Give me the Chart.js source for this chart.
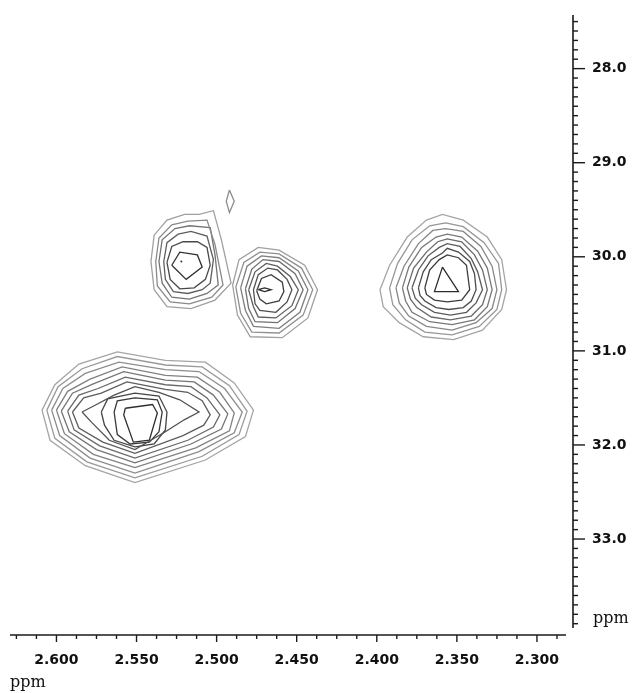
<!DOCTYPE html>
<html><head><meta charset="utf-8">
<script src="https://cdn.jsdelivr.net/npm/chart.js@4.4.0/dist/chart.umd.min.js"></script>
<style>html,body{margin:0;padding:0;background:#fff}</style>
</head><body>
<canvas id="c" width="633" height="693"></canvas>
<script>
// ---- axis data (ppm) ----
const xTickValues = [2.600, 2.550, 2.500, 2.450, 2.400, 2.350, 2.300];
const yTickValues = [28.0, 29.0, 30.0, 31.0, 32.0, 33.0];
const xLimits = [2.2775, 2.629];
const yLimits = [27.43, 34.02];
const xMinorStep = 0.0125;
const yMinorStep = 0.1;
const axisUnit = 'ppm';

// ---- contour data, [x ppm (1H), y ppm (13C)], outermost first ----
const peakA = [
  [[2.541,30.05],[2.539,29.77],[2.531,29.61],[2.520,29.55],[2.511,29.55],[2.502,29.51],[2.497,29.82],[2.491,30.28],[2.501,30.46],[2.516,30.55],[2.531,30.53],[2.539,30.35]],
  [[2.538,30.05],[2.536,29.80],[2.528,29.66],[2.518,29.62],[2.506,29.61],[2.501,29.87],[2.496,30.30],[2.503,30.43],[2.517,30.50],[2.529,30.48],[2.537,30.31]],
  [[2.536,30.05],[2.534,29.82],[2.526,29.70],[2.517,29.67],[2.504,29.69],[2.501,29.98],[2.499,30.30],[2.506,30.39],[2.517,30.45],[2.528,30.43],[2.534,30.28]],
  [[2.533,30.05],[2.531,29.85],[2.524,29.76],[2.516,29.73],[2.506,29.78],[2.502,30.03],[2.504,30.28],[2.509,30.35],[2.518,30.39],[2.527,30.37],[2.532,30.24]],
  [[2.531,30.06],[2.528,29.89],[2.521,29.84],[2.512,29.84],[2.506,29.90],[2.504,30.09],[2.507,30.24],[2.514,30.33],[2.523,30.34],[2.529,30.24]],
  [[2.528,30.09],[2.523,29.95],[2.512,29.98],[2.509,30.11],[2.519,30.24]]
];
const peakAMax = [[2.522, 30.05]];
const smallSpot = [
  [[2.492,29.29],[2.489,29.41],[2.492,29.53],[2.494,29.41]]
];
const peakB = [
  [[2.490,30.30],[2.486,30.03],[2.474,29.90],[2.461,29.93],[2.445,30.09],[2.437,30.35],[2.443,30.65],[2.459,30.86],[2.479,30.85],[2.487,30.62]],
  [[2.488,30.32],[2.483,30.06],[2.473,29.95],[2.461,29.97],[2.447,30.12],[2.440,30.35],[2.446,30.62],[2.461,30.81],[2.478,30.80],[2.485,30.60]],
  [[2.485,30.33],[2.481,30.10],[2.472,29.99],[2.461,30.01],[2.449,30.15],[2.443,30.35],[2.448,30.59],[2.461,30.76],[2.477,30.74],[2.482,30.57]],
  [[2.482,30.34],[2.478,30.13],[2.471,30.03],[2.461,30.05],[2.451,30.18],[2.446,30.35],[2.451,30.55],[2.462,30.70],[2.476,30.69],[2.480,30.55]],
  [[2.480,30.35],[2.476,30.16],[2.469,30.07],[2.462,30.10],[2.454,30.21],[2.449,30.35],[2.453,30.52],[2.463,30.65],[2.474,30.64],[2.477,30.53]],
  [[2.477,30.35],[2.474,30.19],[2.468,30.12],[2.462,30.14],[2.456,30.24],[2.453,30.35],[2.456,30.48],[2.463,30.59],[2.473,30.57],[2.476,30.50]],
  [[2.475,30.36],[2.472,30.23],[2.466,30.19],[2.459,30.27],[2.458,30.37],[2.461,30.47],[2.469,30.50],[2.473,30.45]],
  [[2.474,30.35],[2.470,30.33],[2.466,30.35],[2.470,30.37]]
];
const peakC = [
  [[2.398,30.35],[2.392,30.09],[2.381,29.79],[2.369,29.61],[2.359,29.55],[2.346,29.61],[2.331,29.79],[2.322,30.03],[2.319,30.35],[2.322,30.56],[2.334,30.78],[2.352,30.88],[2.371,30.85],[2.386,30.70],[2.396,30.53]],
  [[2.392,30.33],[2.387,30.07],[2.378,29.82],[2.367,29.67],[2.357,29.64],[2.346,29.68],[2.333,29.85],[2.324,30.07],[2.322,30.35],[2.325,30.56],[2.336,30.74],[2.353,30.83],[2.370,30.80],[2.382,30.67],[2.390,30.51]],
  [[2.388,30.33],[2.383,30.10],[2.374,29.86],[2.365,29.72],[2.357,29.70],[2.346,29.73],[2.335,29.89],[2.328,30.10],[2.325,30.35],[2.328,30.55],[2.338,30.70],[2.353,30.78],[2.369,30.74],[2.380,30.63],[2.386,30.49]],
  [[2.384,30.33],[2.380,30.11],[2.372,29.90],[2.363,29.79],[2.356,29.76],[2.347,29.79],[2.337,29.94],[2.331,30.12],[2.328,30.35],[2.331,30.53],[2.339,30.67],[2.353,30.72],[2.367,30.69],[2.378,30.59],[2.382,30.47]],
  [[2.381,30.33],[2.377,30.12],[2.369,29.95],[2.362,29.84],[2.356,29.81],[2.347,29.84],[2.339,29.98],[2.334,30.14],[2.331,30.35],[2.334,30.51],[2.341,30.63],[2.354,30.67],[2.366,30.64],[2.375,30.54],[2.379,30.45]],
  [[2.378,30.33],[2.374,30.14],[2.368,29.99],[2.361,29.90],[2.356,29.86],[2.348,29.89],[2.341,30.02],[2.337,30.16],[2.334,30.35],[2.338,30.49],[2.344,30.59],[2.354,30.62],[2.364,30.59],[2.372,30.51],[2.376,30.44]],
  [[2.374,30.33],[2.371,30.16],[2.366,30.03],[2.359,29.96],[2.356,29.91],[2.349,29.95],[2.342,30.05],[2.339,30.18],[2.338,30.35],[2.341,30.47],[2.346,30.54],[2.355,30.56],[2.363,30.54],[2.370,30.47],[2.373,30.41]],
  [[2.370,30.33],[2.367,30.14],[2.361,30.03],[2.356,29.98],[2.349,30.01],[2.344,30.09],[2.342,30.35],[2.347,30.46],[2.356,30.48],[2.364,30.46],[2.369,30.40]],
  [[2.359,30.11],[2.349,30.37],[2.364,30.37]]
];
const peakD = [
  [[2.609,31.63],[2.601,31.36],[2.586,31.14],[2.562,31.01],[2.532,31.10],[2.507,31.12],[2.489,31.34],[2.477,31.63],[2.482,31.91],[2.507,32.16],[2.551,32.40],[2.582,32.22],[2.604,31.95]],
  [[2.606,31.63],[2.599,31.38],[2.584,31.19],[2.562,31.06],[2.532,31.15],[2.509,31.17],[2.492,31.37],[2.481,31.64],[2.486,31.89],[2.509,32.12],[2.551,32.35],[2.581,32.18],[2.601,31.93]],
  [[2.603,31.63],[2.596,31.40],[2.582,31.24],[2.561,31.12],[2.532,31.20],[2.511,31.22],[2.495,31.40],[2.484,31.65],[2.489,31.87],[2.511,32.07],[2.551,32.30],[2.579,32.14],[2.598,31.90]],
  [[2.600,31.63],[2.593,31.43],[2.579,31.30],[2.559,31.17],[2.532,31.26],[2.512,31.28],[2.498,31.44],[2.489,31.66],[2.492,31.85],[2.513,32.03],[2.551,32.24],[2.577,32.10],[2.595,31.88]],
  [[2.597,31.64],[2.590,31.45],[2.577,31.35],[2.558,31.22],[2.532,31.31],[2.514,31.33],[2.502,31.47],[2.493,31.67],[2.497,31.83],[2.516,31.99],[2.551,32.19],[2.575,32.05],[2.592,31.86]],
  [[2.593,31.64],[2.586,31.47],[2.574,31.40],[2.557,31.28],[2.532,31.36],[2.516,31.38],[2.506,31.50],[2.498,31.68],[2.502,31.81],[2.518,31.95],[2.551,32.14],[2.573,32.01],[2.589,31.84]],
  [[2.590,31.65],[2.583,31.50],[2.572,31.45],[2.556,31.33],[2.532,31.41],[2.518,31.44],[2.509,31.53],[2.504,31.68],[2.508,31.79],[2.521,31.90],[2.551,32.09],[2.571,31.97],[2.586,31.82]],
  [[2.584,31.65],[2.575,31.57],[2.564,31.47],[2.551,31.38],[2.536,31.44],[2.523,31.52],[2.511,31.65],[2.520,31.73],[2.532,31.86],[2.551,32.05],[2.567,31.95],[2.578,31.76]],
  [[2.572,31.65],[2.568,31.51],[2.551,31.45],[2.536,31.48],[2.531,31.65],[2.532,31.84],[2.539,31.99],[2.551,32.02],[2.564,31.95],[2.570,31.79]],
  [[2.564,31.65],[2.562,31.53],[2.551,31.50],[2.537,31.52],[2.534,31.65],[2.536,31.86],[2.542,31.97],[2.554,31.99],[2.562,31.89]],
  [[2.557,31.61],[2.540,31.57],[2.537,31.66],[2.542,31.95],[2.552,31.97],[2.558,31.68]]
];

// ---- build datasets ----
const datasets = [];
function addContours(contours, outerGray, innerGray) {
  contours.forEach((c, i) => {
    const t = contours.length > 1 ? i / (contours.length - 1) : 0;
    const g = Math.round(outerGray + (innerGray - outerGray) * t);
    const pts = c.concat([c[0]]).map(p => ({x: p[0], y: p[1]}));
    datasets.push({
      data: pts, showLine: true, fill: false, tension: 0,
      borderColor: `rgb(${g},${g},${g})`, borderWidth: 1.3,
      pointRadius: 0, pointHoverRadius: 0
    });
  });
}
addContours(peakD, 165, 45);
addContours(peakA, 160, 50);
addContours(smallSpot, 140, 140);
addContours(peakB, 160, 45);
addContours(peakC, 165, 45);
datasets.push({
  data: peakAMax.map(p => ({x: p[0], y: p[1]})), showLine: false,
  pointRadius: 1, backgroundColor: '#333', borderColor: '#333', borderWidth: 0
});

const axisColor = '#1a1a1a';
const tickFont = {family: 'DejaVu Sans', weight: 'bold', size: 14};

function noPad(s) { s.paddingTop = 0; s.paddingBottom = 0; s.paddingLeft = 0; s.paddingRight = 0; }

const axesPlugin = {
  id: 'nmrAxes',
  afterDraw(chart) {
    const ctx = chart.ctx, ca = chart.chartArea;
    const xs = chart.scales.x, ys = chart.scales.y;
    ctx.save();
    ctx.strokeStyle = axisColor;
    ctx.lineWidth = 1.6;
    const xb = ca.bottom;
    ctx.beginPath();
    ctx.moveTo(ca.left, xb); ctx.lineTo(ca.right - 7, xb); ctx.stroke();
    const yr = ca.right;
    ctx.beginPath();
    ctx.moveTo(yr, ca.top); ctx.lineTo(yr, ca.bottom - 7); ctx.stroke();
    ctx.lineWidth = 1.4;
    for (let k = -3; k <= 27; k++) {
      const v = 2.6 - k * xMinorStep;
      if (v < xLimits[0] || v > xLimits[1]) continue;
      const px = xs.getPixelForValue(v);
      if (px > ca.right - 7) continue;
      const major = k % 4 === 0;
      ctx.beginPath(); ctx.moveTo(px, xb); ctx.lineTo(px, xb + (major ? 7 : 4)); ctx.stroke();
    }
    for (let k = -6; k <= 60; k++) {
      const v = 28 + k * yMinorStep;
      if (v < yLimits[0] || v > yLimits[1]) continue;
      const py = ys.getPixelForValue(v);
      if (py > ca.bottom - 7) continue;
      const major = k % 10 === 0;
      ctx.beginPath(); ctx.moveTo(yr, py); ctx.lineTo(yr + (major ? 12 : 5), py); ctx.stroke();
    }
    ctx.fillStyle = '#111';
    ctx.font = '16px "DejaVu Serif"';
    ctx.textBaseline = 'alphabetic';
    ctx.textAlign = 'left';
    ctx.fillText(axisUnit, ca.left, 687);
    ctx.fillText(axisUnit, yr + 20, ys.getPixelForValue(33.85) + 4);
    ctx.restore();
  }
};

new Chart(document.getElementById('c'), {
  type: 'scatter',
  data: {datasets},
  plugins: [axesPlugin],
  options: {
    responsive: false, animation: false, devicePixelRatio: 1,
    layout: {padding: {left: 10, top: 15, right: 0, bottom: 0}},
    plugins: {legend: {display: false}, tooltip: {enabled: false}},
    scales: {
      x: {
        type: 'linear', position: 'bottom', reverse: true,
        min: xLimits[0], max: xLimits[1],
        grid: {display: false}, border: {display: false},
        afterBuildTicks: s => { s.ticks = xTickValues.map(v => ({value: v})); },
        afterFit: s => { s.height = 58; noPad(s); },
        ticks: {autoSkip: false, maxRotation: 0, padding: 9, color: '#111', font: tickFont,
          callback: v => Number(v).toFixed(3)}
      },
      y: {
        type: 'linear', position: 'right', reverse: true,
        min: yLimits[0], max: yLimits[1],
        grid: {display: false}, border: {display: false},
        afterBuildTicks: s => { s.ticks = yTickValues.map(v => ({value: v})); },
        afterFit: s => { s.width = 60; noPad(s); },
        ticks: {autoSkip: false, padding: 11, color: '#111', font: tickFont,
          callback: v => Number(v).toFixed(1)}
      }
    }
  }
});
</script>
</body></html>
